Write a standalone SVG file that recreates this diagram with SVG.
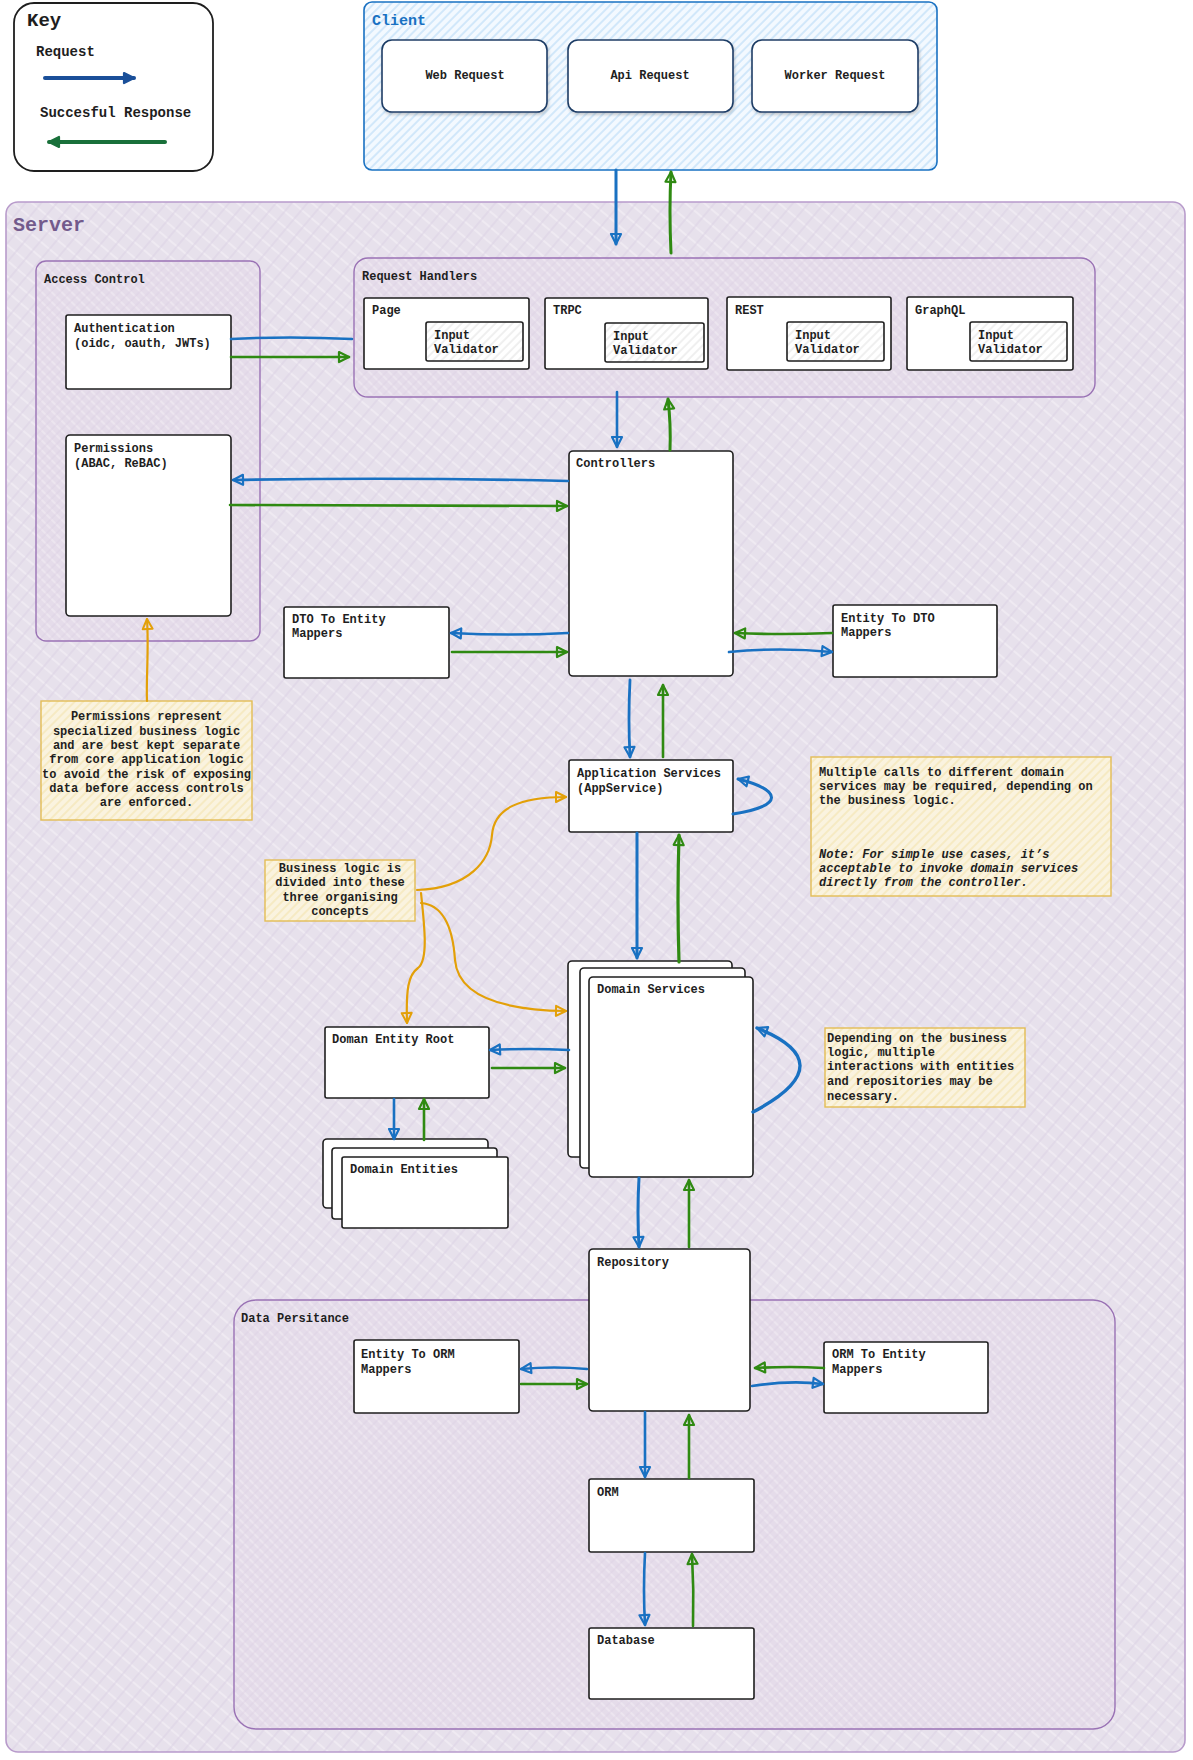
<svg xmlns="http://www.w3.org/2000/svg" width="1193" height="1760" viewBox="0 0 1193 1760">
<defs>
<style>
text{font-family:"Liberation Mono","DejaVu Sans Mono",monospace;font-weight:bold;fill:#1e1e1e;font-size:12px}
.box{fill:#ffffff;stroke:#1e1e1e;stroke-width:1.6}
.csub{fill:#ffffff;stroke:#1f3d66;stroke-width:1.6}
.grp{fill:url(#hatchP2);stroke:#9a72b5;stroke-width:1.4}
.note{fill:url(#hatchY);stroke:#e3bd55;stroke-width:1.4}
.val{fill:url(#hatchG);stroke:#1e1e1e;stroke-width:1.6}
.b{fill:none;stroke:#1971c2;stroke-width:2.6;stroke-linecap:round}
.g{fill:none;stroke:#2f8a12;stroke-width:2.6;stroke-linecap:round}
.o{fill:none;stroke:#e3a008;stroke-width:2.2;stroke-linecap:round}
.ctr{text-anchor:middle}
</style>
<pattern id="hatchS" width="12" height="12" patternUnits="userSpaceOnUse" patternTransform="rotate(40)">
<rect width="12" height="12" fill="#e7e1ec"/>
<line x1="0" y1="3" x2="12" y2="3" stroke="#f1edf4" stroke-width="1.6"/>
<line x1="6" y1="0" x2="6" y2="12" stroke="#dcd2e4" stroke-width="1"/>
</pattern>
<pattern id="hatchP2" width="7" height="7" patternUnits="userSpaceOnUse" patternTransform="rotate(45)">
<rect width="7" height="7" fill="#e5dcea"/>
<line x1="0" y1="2" x2="7" y2="2" stroke="#efe9f2" stroke-width="1.4"/>
<line x1="4" y1="0" x2="4" y2="7" stroke="#ddd1e5" stroke-width="0.8"/>
</pattern>
<pattern id="hatchB" width="6" height="6" patternUnits="userSpaceOnUse" patternTransform="rotate(-45)">
<rect width="6" height="6" fill="#f3f9ff"/>
<line x1="0" y1="3" x2="6" y2="3" stroke="#a9d1f4" stroke-width="0.9"/>
</pattern>
<pattern id="hatchY" width="6" height="6" patternUnits="userSpaceOnUse" patternTransform="rotate(-45)">
<rect width="6" height="6" fill="#faf3df"/>
<line x1="0" y1="3" x2="6" y2="3" stroke="#f3e2a8" stroke-width="1"/>
</pattern>
<pattern id="hatchG" width="6" height="6" patternUnits="userSpaceOnUse" patternTransform="rotate(-45)">
<rect width="6" height="6" fill="#ffffff"/>
<line x1="0" y1="3" x2="6" y2="3" stroke="#dddddd" stroke-width="0.9"/>
</pattern>
<filter id="sh" x="-10%" y="-10%" width="130%" height="140%">
<feDropShadow dx="1" dy="2" stdDeviation="1.5" flood-color="#000" flood-opacity="0.2"/>
</filter>
<marker id="mb" viewBox="0 0 14 14" refX="12" refY="7" markerWidth="14" markerHeight="14" orient="auto" markerUnits="userSpaceOnUse">
<path d="M2,2 L12,7 L2,12 Z" fill="none" stroke="#1971c2" stroke-width="2.2" stroke-linejoin="round"/>
</marker>
<marker id="mg" viewBox="0 0 14 14" refX="12" refY="7" markerWidth="14" markerHeight="14" orient="auto" markerUnits="userSpaceOnUse">
<path d="M2,2 L12,7 L2,12 Z" fill="none" stroke="#2f8a12" stroke-width="2.2" stroke-linejoin="round"/>
</marker>
<marker id="mo" viewBox="0 0 14 14" refX="12" refY="7" markerWidth="14" markerHeight="14" orient="auto" markerUnits="userSpaceOnUse">
<path d="M2,2 L12,7 L2,12 Z" fill="none" stroke="#e3a008" stroke-width="2" stroke-linejoin="round"/>
</marker>
<marker id="mkb" viewBox="0 0 14 14" refX="12" refY="7" markerWidth="14" markerHeight="14" orient="auto" markerUnits="userSpaceOnUse">
<path d="M2,2 L12,7 L2,12 Z" fill="#1a4f99" stroke="#1a4f99" stroke-width="2.2" stroke-linejoin="round"/>
</marker>
<marker id="mkg" viewBox="0 0 14 14" refX="12" refY="7" markerWidth="14" markerHeight="14" orient="auto" markerUnits="userSpaceOnUse">
<path d="M2,2 L12,7 L2,12 Z" fill="#19703a" stroke="#19703a" stroke-width="2.2" stroke-linejoin="round"/>
</marker>
</defs>
<rect width="1193" height="1760" fill="#ffffff"/>

<g id="key">
<rect x="14" y="3" width="199" height="168" rx="20" fill="#ffffff" stroke="#1e1e1e" stroke-width="1.8"/>
<text x="27" y="26" style="font-size:19px">Key</text>
<text x="36" y="56" style="font-size:14px">Request</text>
<line x1="45" y1="78" x2="134" y2="78" stroke="#1a4f99" stroke-width="4" stroke-linecap="round" marker-end="url(#mkb)"/>
<text x="40" y="117" style="font-size:14px">Succesful Response</text>
<line x1="165" y1="142" x2="49" y2="142" stroke="#19703a" stroke-width="4" stroke-linecap="round" marker-end="url(#mkg)"/>
</g>

<g id="client">
<rect x="364" y="2" width="573" height="168" rx="8" fill="url(#hatchB)" stroke="#1971c2" stroke-width="1.6"/>
<text x="372" y="25" style="font-size:15px;fill:#1971c2">Client</text>
</g>
<g id="web-request">
<rect x="382" y="40" width="165" height="72" rx="10" class="csub" filter="url(#sh)"/>
<text x="465" y="79" class="ctr">Web Request</text>
</g>
<g id="api-request">
<rect x="568" y="40" width="165" height="72" rx="10" class="csub" filter="url(#sh)"/>
<text x="650" y="79" class="ctr">Api Request</text>
</g>
<g id="worker-request">
<rect x="752" y="40" width="166" height="72" rx="10" class="csub" filter="url(#sh)"/>
<text x="835" y="79" class="ctr">Worker Request</text>
</g>

<g id="server">
<rect x="6" y="202" width="1179" height="1550" rx="12" fill="url(#hatchS)" stroke="#b89bcb" stroke-width="1.6"/>
<text x="13" y="231" style="font-size:20px;fill:#735a8c">Server</text>
</g>

<g id="access-control">
<rect x="36" y="261" width="224" height="380" rx="10" class="grp"/>
<text x="44" y="283">Access Control</text>
</g>
<g id="authentication">
<rect x="66" y="315" width="165" height="74" rx="2" class="box"/>
<text x="74" y="332">Authentication</text>
<text x="74" y="347">(oidc, oauth, JWTs)</text>
</g>
<g id="permissions">
<rect x="66" y="435" width="165" height="181" rx="4" class="box"/>
<text x="74" y="452">Permissions</text>
<text x="74" y="467">(ABAC, ReBAC)</text>
</g>

<g id="request-handlers">
<rect x="354" y="258" width="741" height="139" rx="14" class="grp"/>
<text x="362" y="280">Request Handlers</text>
</g>
<g id="page">
<rect x="364" y="298" width="165" height="71" rx="2" class="box"/>
<text x="372" y="314">Page</text>
<rect x="426" y="322" width="97" height="39" rx="2" class="val"/>
<text x="434" y="339">Input</text>
<text x="434" y="353">Validator</text>
</g>
<g id="trpc">
<rect x="545" y="298" width="163" height="71" rx="2" class="box"/>
<text x="553" y="314">TRPC</text>
<rect x="605" y="323" width="99" height="39" rx="2" class="val"/>
<text x="613" y="340">Input</text>
<text x="613" y="354">Validator</text>
</g>
<g id="rest">
<rect x="727" y="297" width="164" height="73" rx="2" class="box"/>
<text x="735" y="314">REST</text>
<rect x="787" y="322" width="97" height="39" rx="2" class="val"/>
<text x="795" y="339">Input</text>
<text x="795" y="353">Validator</text>
</g>
<g id="graphql">
<rect x="907" y="297" width="166" height="73" rx="2" class="box"/>
<text x="915" y="314">GraphQL</text>
<rect x="970" y="322" width="97" height="39" rx="2" class="val"/>
<text x="978" y="339">Input</text>
<text x="978" y="353">Validator</text>
</g>

<g id="controllers">
<rect x="569" y="451" width="164" height="225" rx="4" class="box"/>
<text x="576" y="467">Controllers</text>
</g>
<g id="dto-to-entity">
<rect x="284" y="607" width="165" height="71" rx="2" class="box"/>
<text x="292" y="623">DTO To Entity</text>
<text x="292" y="637">Mappers</text>
</g>
<g id="entity-to-dto">
<rect x="833" y="605" width="164" height="72" rx="2" class="box"/>
<text x="841" y="622">Entity To DTO</text>
<text x="841" y="636">Mappers</text>
</g>

<g id="permissions-note">
<rect x="41" y="701" width="211" height="119" class="note"/>
<text x="146.5" y="720" class="ctr">Permissions represent</text>
<text x="146.5" y="735" class="ctr">specialized business logic</text>
<text x="146.5" y="749" class="ctr">and are best kept separate</text>
<text x="146.5" y="763" class="ctr">from core application logic</text>
<text x="146.5" y="778" class="ctr">to avoid the risk of exposing</text>
<text x="146.5" y="792" class="ctr">data before access controls</text>
<text x="146.5" y="806" class="ctr">are enforced.</text>
</g>

<g id="application-services">
<rect x="569" y="760" width="164" height="72" rx="2" class="box"/>
<text x="577" y="777">Application Services</text>
<text x="577" y="792">(AppService)</text>
</g>

<g id="appservice-note">
<rect x="811" y="757" width="300" height="139" class="note"/>
<text x="819" y="776">Multiple calls to different domain</text>
<text x="819" y="790">services may be required, depending on</text>
<text x="819" y="804">the business logic.</text>
<text x="819" y="858" font-style="italic">Note: For simple use cases, it’s</text>
<text x="819" y="872" font-style="italic">acceptable to invoke domain services</text>
<text x="819" y="886" font-style="italic">directly from the controller.</text>
</g>

<g id="business-logic-note">
<rect x="265" y="860" width="150" height="61" class="note"/>
<text x="340" y="872" class="ctr">Business logic is</text>
<text x="340" y="886" class="ctr">divided into these</text>
<text x="340" y="901" class="ctr">three organising</text>
<text x="340" y="915" class="ctr">concepts</text>
</g>

<g id="domain-services">
<rect x="568" y="961" width="164" height="196" rx="4" class="box"/>
<rect x="580" y="968" width="165" height="200" rx="4" class="box"/>
<rect x="589" y="977" width="164" height="200" rx="4" class="box"/>
<text x="597" y="993">Domain Services</text>
</g>

<g id="domain-services-note">
<rect x="825" y="1028" width="200" height="79" class="note"/>
<text x="827" y="1042">Depending on the business</text>
<text x="827" y="1056">logic, multiple</text>
<text x="827" y="1070">interactions with entities</text>
<text x="827" y="1085">and repositories may be</text>
<text x="827" y="1100">necessary.</text>
</g>

<g id="domain-entity-root">
<rect x="325" y="1027" width="164" height="71" rx="2" class="box"/>
<text x="332" y="1043">Doman Entity Root</text>
</g>
<g id="domain-entities">
<rect x="323" y="1139" width="165" height="69" rx="4" class="box"/>
<rect x="332" y="1148" width="165" height="71" rx="3" class="box"/>
<rect x="342" y="1157" width="166" height="71" rx="2" class="box"/>
<text x="350" y="1173">Domain Entities</text>
</g>

<g id="data-persistance">
<rect x="234" y="1300" width="881" height="429" rx="22" class="grp"/>
<text x="241" y="1322">Data Persitance</text>
</g>
<g id="repository">
<rect x="589" y="1249" width="161" height="162" rx="4" class="box"/>
<text x="597" y="1266">Repository</text>
</g>
<g id="entity-to-orm">
<rect x="354" y="1340" width="165" height="73" rx="2" class="box"/>
<text x="361" y="1358">Entity To ORM</text>
<text x="361" y="1373">Mappers</text>
</g>
<g id="orm-to-entity">
<rect x="824" y="1342" width="164" height="71" rx="2" class="box"/>
<text x="832" y="1358">ORM To Entity</text>
<text x="832" y="1373">Mappers</text>
</g>
<g id="orm">
<rect x="589" y="1479" width="165" height="73" rx="2" class="box"/>
<text x="597" y="1496">ORM</text>
</g>
<g id="database">
<rect x="589" y="1628" width="165" height="71" rx="2" class="box"/>
<text x="597" y="1644">Database</text>
</g>

<g id="connectors">
<path class="b" d="M616,170 L616,244" marker-end="url(#mb)" style="stroke-width:3"/>
<path class="g" d="M671,253 Q669,210 671,172" marker-end="url(#mg)" style="stroke-width:3"/>
<path class="b" d="M352,339 Q290,336 231,339"/>
<path class="g" d="M231,357 L349,357" marker-end="url(#mg)"/>
<path class="b" d="M617,392 L617,447" marker-end="url(#mb)"/>
<path class="g" d="M670,450 Q671,425 668,399" marker-end="url(#mg)" style="stroke-width:3"/>
<path class="b" d="M568,481 Q400,477 233,480" marker-end="url(#mb)"/>
<path class="g" d="M230,505 L567,506" marker-end="url(#mg)"/>
<path class="b" d="M568,633 Q510,636 451,633" marker-end="url(#mb)"/>
<path class="g" d="M452,652 L567,652" marker-end="url(#mg)"/>
<path class="g" d="M832,633 Q780,635 735,633" marker-end="url(#mg)"/>
<path class="b" d="M729,652 Q780,647 832,652" marker-end="url(#mb)"/>
<path class="b" d="M630,680 Q628,720 630,757" marker-end="url(#mb)" style="stroke-width:2.8"/>
<path class="g" d="M663,757 L663,685" marker-end="url(#mg)"/>
<path class="b" d="M733,814 C785,806 782,790 738,779" marker-end="url(#mb)" style="stroke-width:3"/>
<path class="b" d="M637,833 L637,958" marker-end="url(#mb)" style="stroke-width:3"/>
<path class="g" d="M679,962 Q677,900 679,835" marker-end="url(#mg)" style="stroke-width:3.2"/>
<path class="b" d="M753,1112 C818,1078 812,1050 757,1028" marker-end="url(#mb)" style="stroke-width:3.4"/>
<path class="b" d="M569,1050 Q530,1048 490,1050" marker-end="url(#mb)"/>
<path class="g" d="M492,1068 L565,1068" marker-end="url(#mg)"/>
<path class="b" d="M394,1099 L394,1139" marker-end="url(#mb)"/>
<path class="g" d="M424,1140 L424,1099" marker-end="url(#mg)"/>
<path class="b" d="M639,1178 Q637,1212 639,1247" marker-end="url(#mb)" style="stroke-width:3"/>
<path class="g" d="M689,1247 L689,1180" marker-end="url(#mg)"/>
<path class="b" d="M587,1369 Q554,1366 521,1369" marker-end="url(#mb)"/>
<path class="g" d="M521,1384 L587,1384" marker-end="url(#mg)"/>
<path class="g" d="M824,1368 Q790,1366 755,1368" marker-end="url(#mg)"/>
<path class="b" d="M752,1386 Q790,1380 823,1384" marker-end="url(#mb)"/>
<path class="b" d="M645,1412 L645,1477" marker-end="url(#mb)"/>
<path class="g" d="M689,1478 L689,1415" marker-end="url(#mg)"/>
<path class="b" d="M645,1553 Q643,1590 645,1625" marker-end="url(#mb)"/>
<path class="g" d="M693,1626 Q694,1590 692,1554" marker-end="url(#mg)"/>
<path class="o" d="M147,701 C146,680 149,650 147,619" marker-end="url(#mo)"/>
<path class="o" d="M417,890 C470,888 490,860 492,835 C494,808 520,797 566,797" marker-end="url(#mo)"/>
<path class="o" d="M421,893 C425,930 428,960 418,968 C408,975 406,990 407,1023" marker-end="url(#mo)"/>
<path class="o" d="M421,903 C445,905 453,930 455,960 C458,995 500,1010 566,1011" marker-end="url(#mo)"/>
</g>
</svg>
